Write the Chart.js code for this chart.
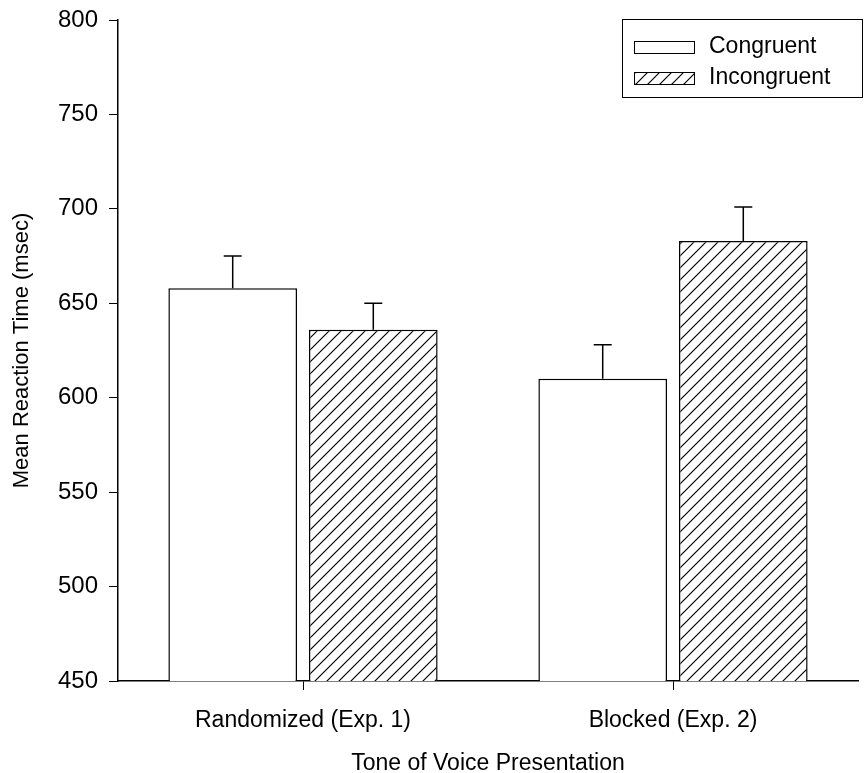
<!DOCTYPE html>
<html>
<head>
<meta charset="utf-8">
<script src="https://cdn.jsdelivr.net/npm/chart.js@4.4.1/dist/chart.umd.min.js"></script>
<style>
  html, body { margin: 0; padding: 0; background: #fff; }
</style>
</head>
<body>
<canvas id="chart" width="866" height="773"></canvas>
<script>
const categories = ["Randomized (Exp. 1)", "Blocked (Exp. 2)"];
const seriesNames = ["Congruent", "Incongruent"];
const congruent = [658, 610];
const incongruent = [636, 683];
const congruentErr = [17, 18];
const incongruentErr = [14, 18];
const yTicks = [450, 500, 550, 600, 650, 700, 750, 800];

const FONT = '"Liberation Sans", Arial, sans-serif';

// diagonal "/" hatch tile
function makeHatch(c) {
  const s = 12;
  const tile = document.createElement("canvas");
  tile.width = s; tile.height = s;
  const g = tile.getContext("2d");
  g.fillStyle = "#fff";
  g.fillRect(0, 0, s, s);
  g.strokeStyle = "#000";
  g.lineWidth = 1.2;
  g.beginPath();
  g.moveTo(0, s); g.lineTo(s, 0);
  g.moveTo(-2, 2); g.lineTo(2, -2);
  g.moveTo(s - 2, s + 2); g.lineTo(s + 2, s - 2);
  g.stroke();
  return c.createPattern(tile, "repeat");
}

const ctx = document.getElementById("chart").getContext("2d");
const hatch = makeHatch(ctx);

const errors = [congruentErr, incongruentErr];

const errorBars = {
  id: "errorBars",
  afterDatasetsDraw(chart) {
    const c = chart.ctx;
    const y = chart.scales.y;
    c.save();
    c.strokeStyle = "#000";
    c.lineWidth = 1.5;
    chart.data.datasets.forEach((ds, i) => {
      chart.getDatasetMeta(i).data.forEach((bar, j) => {
        const top = y.getPixelForValue(ds.data[j] + errors[i][j]);
        c.beginPath();
        c.moveTo(bar.x, bar.y);
        c.lineTo(bar.x, top);
        c.moveTo(bar.x - 9, top);
        c.lineTo(bar.x + 9, top);
        c.stroke();
      });
    });
    c.restore();
  }
};

const boxLegend = {
  id: "boxLegend",
  afterDraw(chart) {
    const c = chart.ctx;
    c.save();
    c.strokeStyle = "#000";
    c.lineWidth = 1;
    c.strokeRect(622.5, 19.5, 240, 78);
    c.font = "23px " + FONT;
    c.textBaseline = "middle";
    const rows = [47, 78];
    chart.data.datasets.forEach((ds, i) => {
      c.fillStyle = ds.backgroundColor;
      c.fillRect(634, rows[i] - 6, 60, 13);
      c.strokeRect(634.5, rows[i] - 5.5, 60, 12);
      c.fillStyle = "#000";
      c.fillText(ds.label, 709, rows[i]);
    });
    c.restore();
  }
};

new Chart(ctx, {
  type: "bar",
  data: {
    labels: categories,
    datasets: [
      {
        label: seriesNames[0],
        data: congruent,
        backgroundColor: "#fff",
        borderColor: "#000",
        borderWidth: { top: 1.5, left: 1.5, right: 1.5, bottom: 0 },
        borderSkipped: false
      },
      {
        label: seriesNames[1],
        data: incongruent,
        backgroundColor: hatch,
        borderColor: "#000",
        borderWidth: { top: 1.5, left: 1.5, right: 1.5, bottom: 0 },
        borderSkipped: false
      }
    ]
  },
  options: {
    responsive: false,
    animation: false,
    layout: { padding: { top: 20, right: 8, left: 0, bottom: 0 } },
    datasets: { bar: { categoryPercentage: 0.76, barPercentage: 0.915 } },
    plugins: {
      legend: { display: false },
      tooltip: { enabled: false }
    },
    scales: {
      x: {
        afterFit(scale) { scale.height = 92; scale.paddingLeft = 0; scale.paddingRight = 0; },
        grid: { display: true, drawOnChartArea: false, offset: false, color: "#000", tickLength: 9, lineWidth: 1 },
        border: { color: "#000", width: 1.5 },
        ticks: { color: "#000", font: { family: FONT, size: 23 }, padding: 17, maxRotation: 0 },
        title: {
          display: true,
          text: "Tone of Voice Presentation",
          color: "#000",
          font: { family: FONT, size: 23, lineHeight: 0.85 },
          padding: { top: 0, bottom: 0 }
        }
      },
      y: {
        min: yTicks[0],
        max: yTicks[yTicks.length - 1],
        afterFit(scale) { scale.width = 118; scale.paddingTop = 0; scale.paddingBottom = 0; },
        afterBuildTicks(scale) { scale.ticks = yTicks.map(v => ({ value: v })); },
        grid: { display: true, drawOnChartArea: false, color: "#000", tickLength: 9, lineWidth: 1 },
        border: { color: "#000", width: 1.5 },
        ticks: { color: "#000", font: { family: FONT, size: 24 }, padding: 11 },
        title: {
          display: true,
          text: "Mean Reaction Time (msec)",
          color: "#000",
          font: { family: FONT, size: 22 },
          padding: { top: 9, bottom: 0 }
        }
      }
    }
  },
  plugins: [errorBars, boxLegend]
});
</script>
</body>
</html>
